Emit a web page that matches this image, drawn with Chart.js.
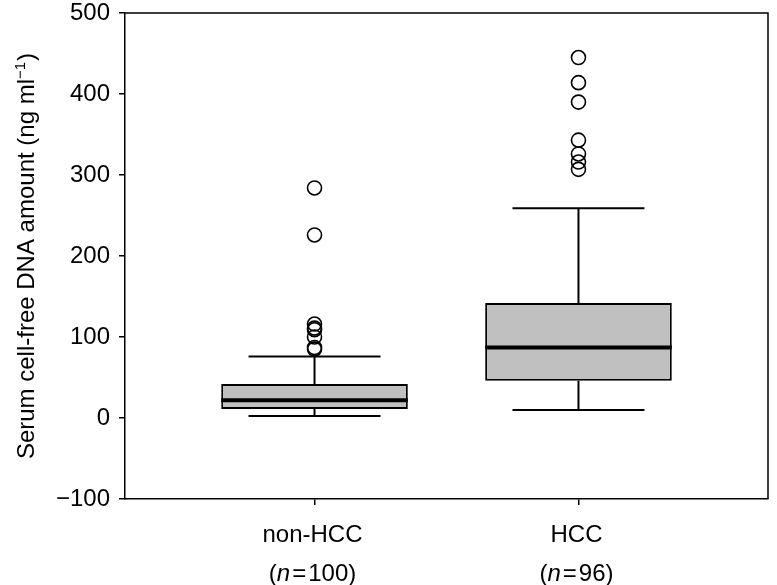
<!DOCTYPE html>
<html>
<head>
<meta charset="utf-8">
<script src="https://cdn.jsdelivr.net/npm/chart.js@4"></script>
<style>
  html, body { margin: 0; padding: 0; background: #fff; }
  canvas { display: block; }
</style>
</head>
<body>
<canvas id="boxChart" width="777" height="585"></canvas>
<script>
// Box plot data
const categories = ['non-HCC', 'HCC'];
const sampleSizes = [100, 96];
const groupX = [1, 2];
const whiskerLow = [2.5, 10];
const q1 = [11, 46];
const median = [22, 87];
const q3 = [42, 142];
const whiskerHigh = [76, 259];
const outliersNonHCC = [284, 226, 116, 111, 109, 100, 87, 85];
const outliersHCC = [445, 414, 390, 343, 326, 316, 307];
const yTicks = [-100, 0, 100, 200, 300, 400, 500];

const FONT = '"Liberation Sans", Arial, Helvetica, sans-serif';

const outlierPoints = [];
outliersNonHCC.forEach(v => outlierPoints.push({ x: groupX[0], y: v }));
outliersHCC.forEach(v => outlierPoints.push({ x: groupX[1], y: v }));

// Whiskers, medians, frame and custom labels
const boxExtras = {
    id: 'boxExtras',
    afterDatasetsDraw(chart) {
        const ctx = chart.ctx;
        const xs = chart.scales.x;
        const ys = chart.scales.y;
        const bars = chart.getDatasetMeta(0).data;
        ctx.save();
        ctx.strokeStyle = '#000';
        groupX.forEach((gx, i) => {
            const cx = xs.getPixelForValue(gx);
            const capL = xs.getPixelForValue(gx - 0.25);
            const capR = xs.getPixelForValue(gx + 0.25);
            ctx.lineWidth = 2;
            ctx.beginPath();
            ctx.moveTo(cx, ys.getPixelForValue(q3[i]));
            ctx.lineTo(cx, ys.getPixelForValue(whiskerHigh[i]));
            ctx.moveTo(cx, ys.getPixelForValue(q1[i]));
            ctx.lineTo(cx, ys.getPixelForValue(whiskerLow[i]));
            ctx.moveTo(capL, ys.getPixelForValue(whiskerHigh[i]));
            ctx.lineTo(capR, ys.getPixelForValue(whiskerHigh[i]));
            ctx.moveTo(capL, ys.getPixelForValue(whiskerLow[i]));
            ctx.lineTo(capR, ys.getPixelForValue(whiskerLow[i]));
            ctx.stroke();
            // median
            const bar = bars[i];
            ctx.lineWidth = 4;
            ctx.beginPath();
            ctx.moveTo(bar.x - bar.width / 2, ys.getPixelForValue(median[i]));
            ctx.lineTo(bar.x + bar.width / 2, ys.getPixelForValue(median[i]));
            ctx.stroke();
        });
        ctx.restore();
    },
    afterDraw(chart) {
        const ctx = chart.ctx;
        const area = chart.chartArea;
        const xs = chart.scales.x;
        ctx.save();
        // top and right frame
        ctx.strokeStyle = '#000';
        ctx.lineWidth = 1.5;
        ctx.beginPath();
        ctx.moveTo(area.left, area.top);
        ctx.lineTo(area.right, area.top);
        ctx.lineTo(area.right, area.bottom);
        ctx.stroke();

        // category labels with italic n
        ctx.fillStyle = '#000';
        ctx.textBaseline = 'alphabetic';
        groupX.forEach((gx, i) => {
            const cx = xs.getPixelForValue(gx);
            ctx.font = '24px ' + FONT;
            ctx.textAlign = 'center';
            ctx.fillText(categories[i], cx - 2, 542);

            const parts = [
                { t: '(', f: '24px ' + FONT, gap: 0 },
                { t: 'n', f: 'italic 24px ' + FONT, gap: 2 },
                { t: '=', f: '24px ' + FONT, gap: 2 },
                { t: sampleSizes[i] + ')', f: '24px ' + FONT, gap: 0 }
            ];
            let total = 0;
            parts.forEach(p => { ctx.font = p.f; p.w = ctx.measureText(p.t).width; total += p.w + p.gap; });
            let x = cx - 2 - total / 2;
            ctx.textAlign = 'left';
            parts.forEach(p => { ctx.font = p.f; ctx.fillText(p.t, x, 581); x += p.w + p.gap; });
        });

        // y axis title with superscript
        const main = 'Serum cell-free DNA amount (ng ml';
        const sup = '\u22121';
        const tail = ')';
        ctx.font = '24px ' + FONT;
        const wMain = ctx.measureText(main).width;
        const wTail = ctx.measureText(tail).width;
        ctx.font = '15px ' + FONT;
        const wSup = ctx.measureText(sup).width;
        const total = wMain + wSup + 1 + wTail;
        ctx.translate(34, (area.top + area.bottom) / 2);
        ctx.rotate(-Math.PI / 2);
        ctx.textAlign = 'left';
        let px = -total / 2;
        ctx.font = '24px ' + FONT;
        ctx.fillText(main, px, 0);
        px += wMain;
        ctx.font = '15px ' + FONT;
        ctx.fillText(sup, px, -9);
        px += wSup + 1;
        ctx.font = '24px ' + FONT;
        ctx.fillText(tail, px, 0);
        ctx.restore();
    }
};

const ctx = document.getElementById('boxChart');
const chart = new Chart(ctx, {
    type: 'bar',
    data: {
        datasets: [{
            type: 'bar',
            data: groupX.map((x, i) => ({ x: x, y: [q1[i], q3[i]] })),
            backgroundColor: '#c0c0c0',
            borderColor: '#000',
            borderWidth: 2,
            borderSkipped: false,
            categoryPercentage: 1,
            barPercentage: 0.707
        }, {
            type: 'scatter',
            data: outlierPoints,
            pointStyle: 'circle',
            pointRadius: 7,
            pointBorderWidth: 1.6,
            pointBorderColor: '#000',
            pointBackgroundColor: 'rgba(0,0,0,0)',
            showLine: false
        }]
    },
    options: {
        responsive: false,
        animation: false,
        devicePixelRatio: 1,
        layout: { padding: { top: 13, right: 9, left: 0, bottom: 0 } },
        plugins: {
            legend: { display: false },
            tooltip: { enabled: false }
        },
        scales: {
            x: {
                type: 'linear',
                offset: false,
                min: 0.282,
                max: 2.718,
                afterBuildTicks: function(scale) {
                    scale.ticks = groupX.map(v => ({ value: v }));
                },
                afterFit: function(scale) {
                    scale.height = 86;
                    scale.paddingLeft = 0;
                    scale.paddingRight = 0;
                },
                ticks: {
                    callback: function() { return ''; }
                },
                grid: {
                    offset: false,
                    drawOnChartArea: false,
                    drawTicks: true,
                    tickLength: 6,
                    color: '#000',
                    lineWidth: 1.5
                },
                border: { display: true, color: '#000', width: 1.5 }
            },
            y: {
                min: -100,
                max: 500,
                afterBuildTicks: function(scale) {
                    scale.ticks = yTicks.map(v => ({ value: v }));
                },
                afterFit: function(scale) {
                    scale.width = 125;
                    scale.paddingTop = 0;
                    scale.paddingBottom = 0;
                },
                ticks: {
                    color: '#000',
                    padding: 9,
                    font: { size: 24, family: FONT },
                    callback: function(value) {
                        return value < 0 ? '\u2212' + Math.abs(value) : String(value);
                    }
                },
                grid: {
                    drawOnChartArea: false,
                    drawTicks: true,
                    tickLength: 6,
                    color: '#000',
                    lineWidth: 1.5
                },
                border: { display: true, color: '#000', width: 1.5 }
            }
        }
    },
    plugins: [boxExtras]
});
</script>
</body>
</html>
